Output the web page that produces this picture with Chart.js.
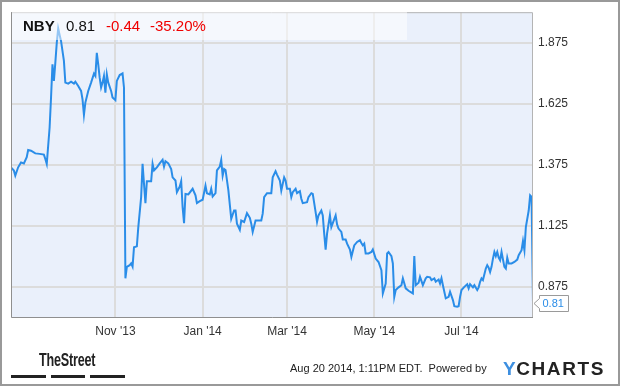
<!DOCTYPE html>
<html>
<head>
<meta charset="utf-8">
<script src="https://cdn.jsdelivr.net/npm/chart.js@4.4.1/dist/chart.umd.min.js"></script>
<style>
html, body { margin: 0; padding: 0; background: #fff; }
#wrap { position: relative; width: 620px; height: 386px; font-family: "Liberation Sans", Arial, sans-serif; overflow: hidden; }
#chart { position: absolute; left: 0; top: 0; }
#frame { position: absolute; left: 0; top: 0; width: 620px; height: 386px; box-sizing: border-box; border: 2px solid #999; pointer-events: none; }
#title { position: absolute; left: 12px; top: 12px; width: 395px; height: 28px; background: rgba(255,255,255,0.5); font-size: 15px; line-height: 28px; white-space: nowrap; color: #111; }
#title span { position: absolute; top: 0; }
.red { color: #f00000; }
#street { position: absolute; left: 39px; top: 350px; font-size: 18px; font-weight: bold; color: #222; transform: scaleX(0.7); transform-origin: left top; letter-spacing: -0.3px; }
.bar { position: absolute; top: 375px; height: 3px; background: #222; }
#stamp { position: absolute; left: 290px; top: 362px; font-size: 11px; line-height: 13px; color: #222; white-space: nowrap; }
#ycharts { position: absolute; left: 503px; top: 358px; font-size: 19px; font-weight: bold; letter-spacing: 1.6px; color: #222; white-space: nowrap; }
#ycharts .y { color: #3d8fe0; letter-spacing: 0.5px; }
</style>
</head>
<body>
<div id="wrap">
  <canvas id="chart" width="620" height="386"></canvas>
  <div id="title">
    <span style="left:11px;font-weight:bold">NBY</span>
    <span style="left:54px">0.81</span>
    <span class="red" style="left:94px">-0.44</span>
    <span class="red" style="left:138px">-35.20%</span>
  </div>
  <div id="street">TheStreet</div>
  <div class="bar" style="left:11px;width:35px"></div>
  <div class="bar" style="left:51px;width:34px"></div>
  <div class="bar" style="left:90px;width:35px"></div>
  <div id="stamp">Aug 20 2014, 1:11PM EDT.&nbsp; Powered by</div>
  <div id="ycharts"><span class="y">Y</span>CHARTS</div>
  <div id="frame"></div>
</div>
<script>
// days counted from Aug 20 2013, closing price of NBY
const tradingDays = [
  0, 2, 3, 5, 7, 9, 11, 12, 14, 17, 20, 23, 24, 25, 27, 28, 29, 30, 31, 32,
  33, 34, 35, 37, 38, 40, 42, 44, 45, 47, 49, 50, 51, 52, 54, 56, 58, 59, 60, 61,
  62, 63, 64, 65, 66, 67, 68, 70, 71, 73, 74, 76, 78, 79, 80, 81, 83, 84, 85, 86,
  88, 89, 91, 92, 93, 94, 95, 98, 99, 100, 102, 104, 106, 107, 108, 110, 112, 113, 115, 116,
  118, 119, 120, 121, 122, 124, 127, 129, 130, 132, 134, 136, 137, 139, 140, 141, 143, 144, 146, 147,
  148, 149, 150, 152, 154, 156, 157, 158, 160, 161, 163, 165, 167, 168, 169, 171, 172, 175, 176, 177,
  179, 182, 183, 185, 186, 188, 189, 191, 192, 193, 195, 196, 197, 199, 200, 202, 203, 204, 207, 208,
  210, 211, 213, 214, 215, 217, 218, 219, 220, 221, 223, 224, 225, 227, 228, 229, 231, 232, 234, 235,
  237, 238, 240, 242, 244, 245, 246, 247, 248, 250, 252, 253, 255, 257, 259, 260, 262, 263, 264, 266,
  267, 268, 269, 271, 273, 274, 276, 278, 281, 282, 283, 285, 286, 288, 290, 291, 293, 294, 296, 297,
  299, 300, 301, 302, 304, 306, 307, 309, 310, 312, 313, 314, 315, 317, 319, 320, 321, 323, 324, 326,
  327, 328, 329, 330, 332, 333, 334, 335, 336, 337, 338, 339, 340, 341, 342, 343, 344, 345, 346, 347,
  348, 350, 352, 354, 355, 357, 358, 359, 360, 362, 363, 364, 365
];
const closePrices = [
  1.366, 1.353, 1.332, 1.366, 1.386, 1.382, 1.407, 1.437, 1.434, 1.423, 1.421, 1.418, 1.400, 1.380, 1.529, 1.652, 1.788, 1.720, 1.795, 1.876,
  1.935, 1.908, 1.883, 1.802, 1.713, 1.709, 1.717, 1.709, 1.717, 1.699, 1.679, 1.645, 1.581, 1.631, 1.679, 1.713, 1.750, 1.740, 1.835, 1.788,
  1.733, 1.693, 1.713, 1.740, 1.672, 1.747, 1.713, 1.679, 1.652, 1.641, 1.720, 1.744, 1.751, 1.693, 0.911, 0.958, 0.965, 0.972, 0.959, 1.038,
  1.042, 1.120, 1.244, 1.380, 1.298, 1.219, 1.309, 1.309, 1.380, 1.353, 1.366, 1.382, 1.397, 1.369, 1.391, 1.382, 1.359, 1.325, 1.312, 1.264,
  1.287, 1.309, 1.203, 1.137, 1.257, 1.255, 1.278, 1.251, 1.219, 1.227, 1.233, 1.291, 1.260, 1.255, 1.278, 1.246, 1.260, 1.353, 1.369, 1.396,
  1.332, 1.359, 1.355, 1.271, 1.155, 1.189, 1.189, 1.135, 1.110, 1.148, 1.142, 1.178, 1.159, 1.135, 1.101, 1.148, 1.148, 1.148, 1.176, 1.244,
  1.260, 1.260, 1.325, 1.350, 1.336, 1.312, 1.271, 1.325, 1.312, 1.278, 1.278, 1.244, 1.264, 1.278, 1.260, 1.268, 1.237, 1.219, 1.223, 1.244,
  1.260, 1.257, 1.182, 1.142, 1.169, 1.189, 1.169, 1.094, 1.029, 1.094, 1.169, 1.121, 1.137, 1.169, 1.132, 1.115, 1.101, 1.070, 1.070, 1.053,
  1.029, 0.999, 1.046, 1.060, 1.067, 1.056, 1.046, 1.053, 1.013, 1.013, 1.019, 1.029, 0.992, 0.978, 0.944, 0.849, 0.890, 1.013, 1.019, 1.002,
  0.972, 0.835, 0.863, 0.874, 0.883, 0.911, 0.870, 0.860, 0.849, 1.002, 0.883, 0.893, 0.917, 0.883, 0.911, 0.917, 0.915, 0.904, 0.911, 0.897,
  0.906, 0.890, 0.911, 0.883, 0.829, 0.835, 0.856, 0.822, 0.797, 0.795, 0.797, 0.835, 0.863, 0.876, 0.887, 0.870, 0.887, 0.874, 0.883, 0.863,
  0.874, 0.897, 0.911, 0.904, 0.951, 0.965, 0.955, 0.937, 0.958, 0.992, 1.019, 1.002, 1.019, 0.996, 0.985, 1.019, 0.988, 0.958, 0.951, 0.996,
  0.972, 0.972, 0.978, 0.988, 1.006, 1.026, 1.064, 1.026, 1.121, 1.189, 1.251, 1.245, 0.810
];
const monthDays = [73, 134, 193, 254, 315];
const monthLabels = ["Nov '13", "Jan '14", "Mar '14", "May '14", "Jul '14"];
const priceTicks = [0.875, 1.125, 1.375, 1.625, 1.875];

const lineColor = '#2a8de8';
const fontFamily = '"Liberation Sans", Arial, sans-serif';

// light blue plot area + frame
const plotBackground = {
    id: 'plotBackground',
    beforeDraw: (chart) => {
        const { ctx, chartArea: a } = chart;
        ctx.save();
        ctx.fillStyle = '#eaf0fb';
        ctx.fillRect(a.left, a.top, a.right - a.left, a.bottom - a.top);
        ctx.restore();
    },
    afterDraw: (chart) => {
        const { ctx, chartArea: a } = chart;
        ctx.save();
        ctx.lineWidth = 1;
        ctx.strokeStyle = '#b4b4b4';
        ctx.beginPath();
        ctx.moveTo(a.left, a.top + 0.5);
        ctx.lineTo(a.right - 0.5, a.top + 0.5);
        ctx.lineTo(a.right - 0.5, a.bottom);
        ctx.stroke();
        ctx.strokeStyle = '#8f8f8f';
        ctx.beginPath();
        ctx.moveTo(a.left + 0.5, a.top);
        ctx.lineTo(a.left + 0.5, a.bottom - 0.5);
        ctx.lineTo(a.right, a.bottom - 0.5);
        ctx.stroke();
        ctx.restore();
    }
};

// last price tag on the right axis
const lastTag = {
    id: 'lastTag',
    afterDraw: (chart) => {
        const ctx = chart.ctx;
        const yScale = chart.scales.y;
        const a = chart.chartArea;
        const last = closePrices[closePrices.length - 1];
        const y = Math.round(yScale.getPixelForValue(last)) + 0.5;
        const x0 = a.right + 1, x1 = a.right + 6.5, x2 = a.right + 35.5;
        ctx.save();
        ctx.beginPath();
        ctx.moveTo(x0, y);
        ctx.lineTo(x1, y - 5);
        ctx.lineTo(x1, y - 8);
        ctx.lineTo(x2, y - 8);
        ctx.lineTo(x2, y + 8);
        ctx.lineTo(x1, y + 8);
        ctx.lineTo(x1, y + 5);
        ctx.closePath();
        ctx.fillStyle = '#fff';
        ctx.fill();
        ctx.strokeStyle = '#9a9a9a';
        ctx.lineWidth = 1;
        ctx.stroke();
        ctx.fillStyle = lineColor;
        ctx.font = '11px ' + fontFamily;
        ctx.textBaseline = 'middle';
        ctx.fillText(last.toFixed(2), x1 + 3, y + 0.5);
        ctx.restore();
    }
};

new Chart(document.getElementById('chart').getContext('2d'), {
    type: 'line',
    plugins: [plotBackground, lastTag],
    data: {
        datasets: [{
            data: tradingDays.map((d, i) => ({ x: d, y: closePrices[i] })),
            borderColor: lineColor,
            borderWidth: 2,
            pointRadius: 0,
            tension: 0,
            fill: false
        }]
    },
    options: {
        responsive: false,
        animation: false,
        layout: { padding: { left: 11, top: 11, right: 0, bottom: 0 } },
        plugins: {
            legend: { display: false },
            title: { display: false },
            tooltip: { enabled: false }
        },
        scales: {
            x: {
                type: 'linear',
                min: 0,
                max: 365,
                afterBuildTicks: (scale) => { scale.ticks = monthDays.map(v => ({ value: v })); },
                afterFit: (scale) => { scale.height = 68; },
                grid: { color: '#dcdcdc', lineWidth: 2, drawTicks: false },
                border: { display: false },
                ticks: {
                    autoSkip: false,
                    maxRotation: 0,
                    padding: 6,
                    color: '#333',
                    font: { family: fontFamily, size: 12 },
                    callback: (value, index) => monthLabels[index]
                }
            },
            y: {
                position: 'right',
                min: 0.7485,
                max: 2.0015,
                afterBuildTicks: (scale) => { scale.ticks = priceTicks.map(v => ({ value: v })); },
                afterFit: (scale) => { scale.width = 87; },
                grid: { color: '#dcdcdc', lineWidth: 2, drawTicks: false },
                border: { display: false },
                ticks: {
                    padding: 5,
                    color: '#333',
                    font: { family: fontFamily, size: 12 },
                    callback: (value) => value.toFixed(3)
                }
            }
        }
    }
});
</script>
</body>
</html>
